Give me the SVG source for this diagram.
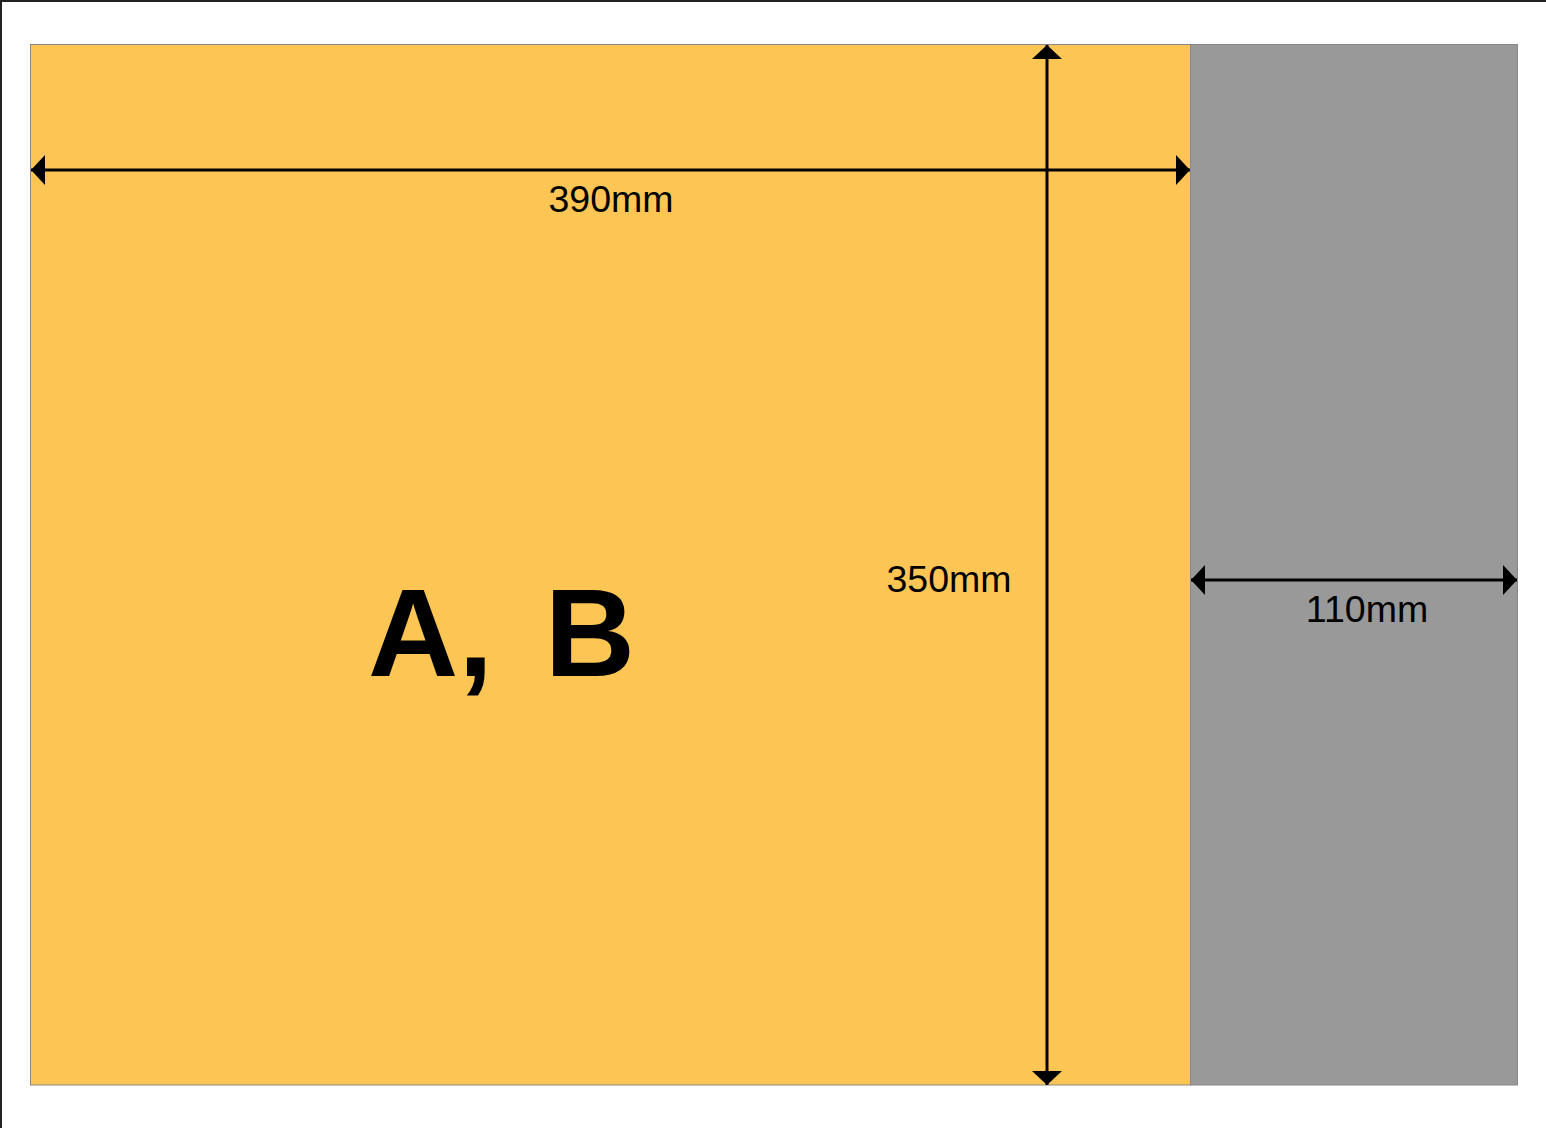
<svg xmlns="http://www.w3.org/2000/svg" width="1546" height="1128" viewBox="0 0 1546 1128">
<style>
.dim{stroke:#000;stroke-width:3;fill:none}
.lbl{font-family:"Liberation Sans",Arial,sans-serif;font-size:37.5px;fill:#000;text-anchor:middle}
.big{font-family:"Liberation Sans",Arial,sans-serif;font-size:125px;font-weight:bold;fill:#000;text-anchor:start;word-spacing:17px}
</style>
<defs>
<marker id="ah" viewBox="0 0 14 30" refX="14" refY="15" markerWidth="14" markerHeight="30" markerUnits="userSpaceOnUse" orient="auto-start-reverse">
<path d="M0,0 L14,15 L0,30 Z" fill="#000"/>
</marker>
</defs>
<rect x="0" y="0" width="1546" height="1128" fill="#fff"/>
<path d="M1,1128 V1 H1546" fill="none" stroke="#222" stroke-width="2"/>
<g id="panelAB">
<rect x="30.5" y="44.5" width="1160" height="1040.5" fill="#fdc654" stroke="#888" stroke-width="1"/>
<text class="big" x="368" y="676">A, B</text>
</g>
<g id="panelSide">
<rect x="1190.5" y="44.5" width="327" height="1040.5" fill="#999" stroke="#888" stroke-width="1"/>
</g>
<g id="connectors">
<line class="dim" x1="31" y1="170" x2="1190" y2="170" marker-start="url(#ah)" marker-end="url(#ah)"/>
<line class="dim" x1="1047" y1="45" x2="1047" y2="1085" marker-start="url(#ah)" marker-end="url(#ah)"/>
<line class="dim" x1="1191" y1="580" x2="1517" y2="580" marker-start="url(#ah)" marker-end="url(#ah)"/>
</g>
<g id="labels">
<text class="lbl" x="611" y="212">390mm</text>
<text class="lbl" x="949" y="592">350mm</text>
<text class="lbl" x="1367" y="622">110mm</text>
</g>
</svg>
